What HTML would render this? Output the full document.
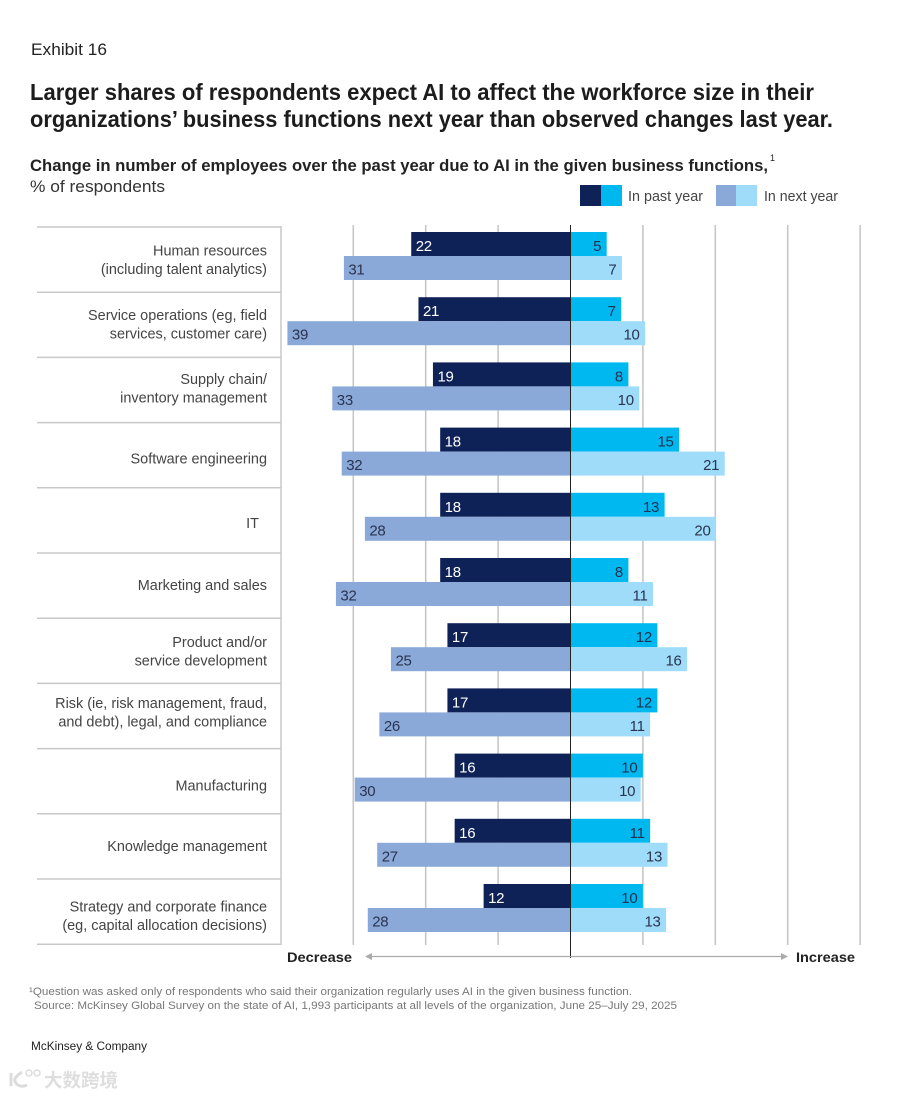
<!DOCTYPE html>
<html lang="en">
<head>
<meta charset="utf-8">
<title>Exhibit 16</title>
<style>
html,body{margin:0;padding:0;background:#fff;width:906px;height:1098px;overflow:hidden}
svg{display:block;font-family:"Liberation Sans","Noto Sans CJK SC",sans-serif}
</style>
</head>
<body>
<svg id="chart" width="906" height="1098" viewBox="0 0 906 1098">
  <rect width="906" height="1098" fill="#fff"/>
  <text x="31" y="55" font-size="17" fill="#222" textLength="76" lengthAdjust="spacingAndGlyphs">Exhibit 16</text>
  <text x="30" y="100" font-size="23" font-weight="bold" fill="#1c1c1c" textLength="784" lengthAdjust="spacingAndGlyphs">Larger shares of respondents expect AI to affect the workforce size in their</text>
  <text x="30" y="127" font-size="23" font-weight="bold" fill="#1c1c1c" textLength="803" lengthAdjust="spacingAndGlyphs">organizations’ business functions next year than observed changes last year.</text>
  <text x="30" y="171" font-size="16.5" font-weight="bold" fill="#222" textLength="738" lengthAdjust="spacingAndGlyphs">Change in number of employees over the past year due to AI in the given business functions,</text>
  <text x="770" y="161" font-size="9" fill="#222">1</text>
  <text x="30" y="192" font-size="17" fill="#333" textLength="135" lengthAdjust="spacingAndGlyphs">% of respondents</text>

  <g>
    <rect x="580" y="185" width="21" height="21" fill="#0f2257"/>
    <rect x="601" y="185" width="21" height="21" fill="#00b8f0"/>
    <text x="628" y="201" font-size="14.5" fill="#444" textLength="75" lengthAdjust="spacingAndGlyphs">In past year</text>
    <rect x="716" y="185" width="20" height="21" fill="#8aa9d8"/>
    <rect x="736" y="185" width="21" height="21" fill="#9edcf9"/>
    <text x="764" y="201" font-size="14.5" fill="#444" textLength="74" lengthAdjust="spacingAndGlyphs">In next year</text>
  </g>

  <g id="grid"></g>
  <g id="rows"></g>
  <g id="bars"></g>
  <g id="values"></g>

  <line x1="570.5" y1="225" x2="570.5" y2="958" stroke="#222" stroke-width="1"/>
  <line x1="370" y1="956.5" x2="782" y2="956.5" stroke="#aaa" stroke-width="1.2"/>
  <polygon points="365,956.5 372,953 372,960" fill="#aaa"/>
  <polygon points="788,956.5 781,953 781,960" fill="#aaa"/>
  <text x="287" y="962" font-size="14" font-weight="bold" fill="#222" textLength="65" lengthAdjust="spacingAndGlyphs">Decrease</text>
  <text x="796" y="962" font-size="14" font-weight="bold" fill="#222" textLength="59" lengthAdjust="spacingAndGlyphs">Increase</text>

  <text x="29" y="995" font-size="11" fill="#777" textLength="603" lengthAdjust="spacingAndGlyphs">¹Question was asked only of respondents who said their organization regularly uses AI in the given business function.</text>
  <text x="34" y="1009" font-size="11" fill="#777" textLength="643" lengthAdjust="spacingAndGlyphs">Source: McKinsey Global Survey on the state of AI, 1,993 participants at all levels of the organization, June 25–July 29, 2025</text>
  <text x="31" y="1050" font-size="11.5" fill="#222" textLength="116" lengthAdjust="spacingAndGlyphs">McKinsey &amp; Company</text>

  <g>
    <path d="M11 1073v13M22 1072c-6 4-8 7-7 9 1 4 6 7 12 4" fill="none" stroke="#dcdcdc" stroke-width="3"/>
    <circle cx="29" cy="1073" r="3" fill="none" stroke="#dcdcdc" stroke-width="1.5"/>
    <circle cx="37" cy="1073" r="3" fill="none" stroke="#dcdcdc" stroke-width="1.5"/>
    <text x="44" y="1087" font-size="18.5" font-weight="bold" fill="#dedede">大数跨境</text>
  </g>
</svg>
<script>
const categories = [
  ["Human resources", "(including talent analytics)"],
  ["Service operations (eg, field", "services, customer care)"],
  ["Supply chain/", "inventory management"],
  ["Software engineering"],
  ["IT\u00a0\u00a0"],
  ["Marketing and sales"],
  ["Product and/or", "service development"],
  ["Risk (ie, risk management, fraud,", "and debt), legal, and compliance"],
  ["Manufacturing"],
  ["Knowledge management"],
  ["Strategy and corporate finance", "(eg, capital allocation decisions)"]
];
const pastDecrease = [22, 21, 19, 18, 18, 18, 17, 17, 16, 16, 12];
const pastIncrease = [5, 7, 8, 15, 13, 8, 12, 12, 10, 11, 10];
const nextDecrease = [31.3, 39.1, 32.9, 31.6, 28.4, 32.4, 24.8, 26.4, 29.8, 26.7, 28];
const nextIncrease = [7.1, 10.3, 9.5, 21.3, 20.1, 11.4, 16.1, 11, 9.7, 13.4, 13.2];
const gridTicks = [-30, -20, -10, 10, 20, 30, 40];

const NS = "http://www.w3.org/2000/svg";
const xScale = v => 570.5 + v * 7.24;
const rowLineY = i => 227 + i * 65.2;
const barTop = i => 232 + i * 65.2;
const BAR_H = 24;

function labelNudge(i) {
  switch (i) {
    case 0: return 0.5;
    case 2: return -1.5;
    case 3: return 3;
    case 4: return 2;
    case 5: return -1;
    case 6: return 1;
    case 7: return -3.5;
    case 8: return 4;
    case 9: return -1;
    case 10: return 4.5;
    default: return 0;
  }
}

function make(tag, attrs, parent, text) {
  const el = document.createElementNS(NS, tag);
  for (const k in attrs) el.setAttribute(k, attrs[k]);
  if (text !== undefined) el.textContent = text;
  parent.appendChild(el);
  return el;
}

const gridG = document.getElementById("grid");
gridTicks.forEach(t => {
  const l = make("line", {x1: xScale(t), x2: xScale(t), y1: 225, y2: 945, stroke: "#c4c4c4", "stroke-width": 1.5}, gridG);
  
  
});

const rowsG = document.getElementById("rows");
for (let i = 0; i <= categories.length; i++) {
  const l = make("line", {x1: 37, x2: 281, y1: rowLineY(i), y2: rowLineY(i), stroke: "#c8c8c8", "stroke-width": 1.5}, rowsG);
  
  
}
const tableEdge = make("line", {x1: 281, x2: 281, y1: 226, y2: 945, stroke: "#c8c8c8", "stroke-width": 1.5}, rowsG);



categories.forEach((lines, i) => {
  lines.forEach((line, j) => {
    const base = rowLineY(i) + (lines.length === 2 ? 28 + j * 18.5 : 38) + labelNudge(i);
    const t = make("text", {x: 267, y: base, "text-anchor": "end", "font-size": 14.45, fill: "#444"}, rowsG, line);
    
    
  });
});

const barsG = document.getElementById("bars");
const valuesG = document.getElementById("values");

function addBar(value, i, sign, isNext, fill, textFill, name) {
  const top = barTop(i) + (isNext ? BAR_H : 0);
  const end = xScale(sign * value);
  const r = make("rect", {x: Math.min(end, xScale(0)), y: top, width: Math.abs(end - xScale(0)), height: BAR_H, fill: fill}, barsG);
  
  
  const t = make("text", {
    x: sign < 0 ? end + 4.5 : end - 5.5,
    y: top + (isNext ? 18.5 : 19),
    "text-anchor": sign < 0 ? "start" : "end",
    "font-size": 15,
    "letter-spacing": "-0.3",
    fill: textFill
  }, valuesG, String(Math.round(value)));
  
  
}

categories.forEach((_, i) => {
  addBar(pastDecrease[i], i, -1, false, "#0f2257", "#ffffff", "bar-past-decrease");
  addBar(pastIncrease[i], i, 1, false, "#00b8f0", "#1f3050", "bar-past-increase");
  addBar(nextDecrease[i], i, -1, true, "#8aa9d8", "#2b3350", "bar-next-decrease");
  addBar(nextIncrease[i], i, 1, true, "#9edcf9", "#2b3350", "bar-next-increase");
});
</script>
</body>
</html>
